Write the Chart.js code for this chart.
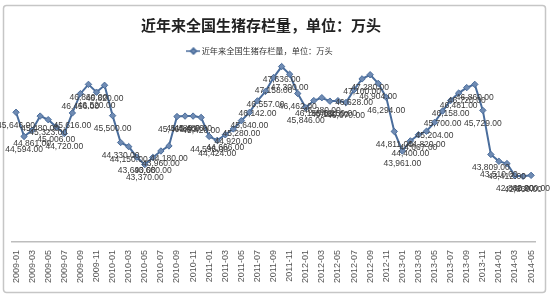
<!DOCTYPE html>
<html>
<head>
<meta charset="utf-8">
<script src="https://cdn.jsdelivr.net/npm/chart.js@4.4.0/dist/chart.umd.min.js"></script>
<style>
  html, body { margin: 0; padding: 0; background: #fff; }
</style>
</head>
<body>
<canvas id="hogChart" width="550" height="300"></canvas>
<script>
// 数据：月份和生猪存栏量（万头）
const months = [
  '2009-01','2009-02','2009-03','2009-04','2009-05','2009-06','2009-07','2009-08','2009-09','2009-10','2009-11','2009-12',
  '2010-01','2010-02','2010-03','2010-04','2010-05','2010-06','2010-07','2010-08','2010-09','2010-10','2010-11','2010-12',
  '2011-01','2011-02','2011-03','2011-04','2011-05','2011-06','2011-07','2011-08','2011-09','2011-10','2011-11','2011-12',
  '2012-01','2012-02','2012-03','2012-04','2012-05','2012-06','2012-07','2012-08','2012-09','2012-10','2012-11','2012-12',
  '2013-01','2013-02','2013-03','2013-04','2013-05','2013-06','2013-07','2013-08','2013-09','2013-10','2013-11','2013-12',
  '2014-01','2014-02','2014-03','2014-04','2014-05'
];
const hogStock = [
  45646, 44594, 44861, 45480, 45323, 45006, 44720, 45616, 46456, 46860, 46520, 46820,
  45500, 44330, 44150, 43690, 43370, 43680, 43960, 44180, 45460, 45480, 45480, 45420,
  44596, 44424, 44666, 44920, 45280, 45640, 46142, 46557, 47158, 47636, 47300, 46462,
  45846, 46155, 46280, 46130, 46150, 46070, 46628, 47100, 47280, 46904, 46294, 44811,
  43961, 44400, 44667, 44820, 45204, 45700, 46158, 46481, 46720, 46860, 45729, 43809,
  43510, 43412, 42880, 42860, 42900
];
const chartTitle = '近年来全国生猪存栏量，单位：万头';
const seriesName = '近年来全国生猪存栏量，单位：万头';

const lineColor = '#4a6d9c';
const markColor = '#6f8bb3';

// 图例里的小图标：横线 + 菱形
const legendIcon = document.createElement('canvas');
legendIcon.width = 14;
legendIcon.height = 8;
(function () {
  const c = legendIcon.getContext('2d');
  c.strokeStyle = lineColor;
  c.lineWidth = 1.5;
  c.beginPath();
  c.moveTo(0, 4);
  c.lineTo(14, 4);
  c.stroke();
  c.fillStyle = markColor;
  c.beginPath();
  c.moveTo(7, 1);
  c.lineTo(10, 4);
  c.lineTo(7, 7);
  c.lineTo(4, 4);
  c.closePath();
  c.fill();
  c.stroke();
})();

// 外框
const framePlugin = {
  id: 'frame',
  beforeDraw(chart) {
    const ctx = chart.ctx;
    ctx.save();
    ctx.fillStyle = '#fff';
    ctx.fillRect(0, 0, chart.width, chart.height);
    ctx.strokeStyle = '#c6c6c6';
    ctx.lineWidth = 1.5;
    ctx.beginPath();
    ctx.roundRect(3.5, 5.5, 542, 287, 3);
    ctx.stroke();
    ctx.restore();
  }
};

// 标题和图例在原图中略偏左，图例略靠下
const shiftPlugin = {
  id: 'shiftTop',
  afterLayout(chart) {
    const dx = -14;
    if (chart.titleBlock) {
      chart.titleBlock.left += dx;
      chart.titleBlock.right += dx;
    }
    if (chart.legend) {
      chart.legend.left += dx;
      chart.legend.right += dx;
      chart.legend.top += 7;
      chart.legend.bottom += 7;
    }
  }
};

// 数据标签（点的下方）
const valueLabelPlugin = {
  id: 'valueLabels',
  afterDatasetsDraw(chart) {
    const ctx = chart.ctx;
    const meta = chart.getDatasetMeta(0);
    const values = chart.data.datasets[0].data;
    ctx.save();
    ctx.font = '8.5px "Liberation Sans", Arial, sans-serif';
    ctx.fillStyle = '#3a3a3a';
    ctx.textAlign = 'center';
    ctx.textBaseline = 'middle';
    meta.data.forEach((pt, i) => {
      const txt = values[i].toLocaleString('en-US', { minimumFractionDigits: 2, maximumFractionDigits: 2 });
      ctx.fillText(txt, pt.x, pt.y + 13);
    });
    ctx.restore();
  }
};

new Chart(document.getElementById('hogChart'), {
  type: 'line',
  data: {
    labels: months,
    datasets: [{
      label: seriesName,
      data: hogStock,
      borderColor: lineColor,
      backgroundColor: markColor,
      borderWidth: 2,
      pointStyle: 'rectRot',
      pointRadius: 3.2,
      pointBackgroundColor: markColor,
      pointBorderColor: lineColor,
      pointBorderWidth: 1,
      tension: 0
    }]
  },
  options: {
    responsive: false,
    animation: false,
    events: [],
    layout: {
      padding: { left: 12, right: 12, top: 0, bottom: 9 }
    },
    plugins: {
      title: {
        display: true,
        text: chartTitle,
        color: '#222',
        font: { family: '"Noto Sans CJK SC", sans-serif', size: 15, weight: 'bold' },
        padding: { top: 16, bottom: 2 }
      },
      legend: {
        display: true,
        labels: {
          usePointStyle: true,
          pointStyle: legendIcon,
          color: '#333',
          padding: 4,
          font: { family: '"Noto Sans CJK SC", sans-serif', size: 8.2 }
        }
      },
      tooltip: { enabled: false }
    },
    scales: {
      x: {
        offset: true,
        grid: { display: false, drawTicks: false },
        border: { display: true, color: '#bdbdbd', width: 1.5 },
        ticks: {
          autoSkip: false,
          maxRotation: 90,
          minRotation: 90,
          padding: 8,
          color: '#555',
          font: { family: '"Liberation Sans", Arial, sans-serif', size: 9 },
          callback: function (val, idx) {
            return idx % 2 === 0 ? this.getLabelForValue(val) : '';
          }
        }
      },
      y: {
        display: false,
        min: 40000,
        max: 48000
      }
    }
  },
  plugins: [framePlugin, shiftPlugin, valueLabelPlugin]
});
</script>
</body>
</html>
